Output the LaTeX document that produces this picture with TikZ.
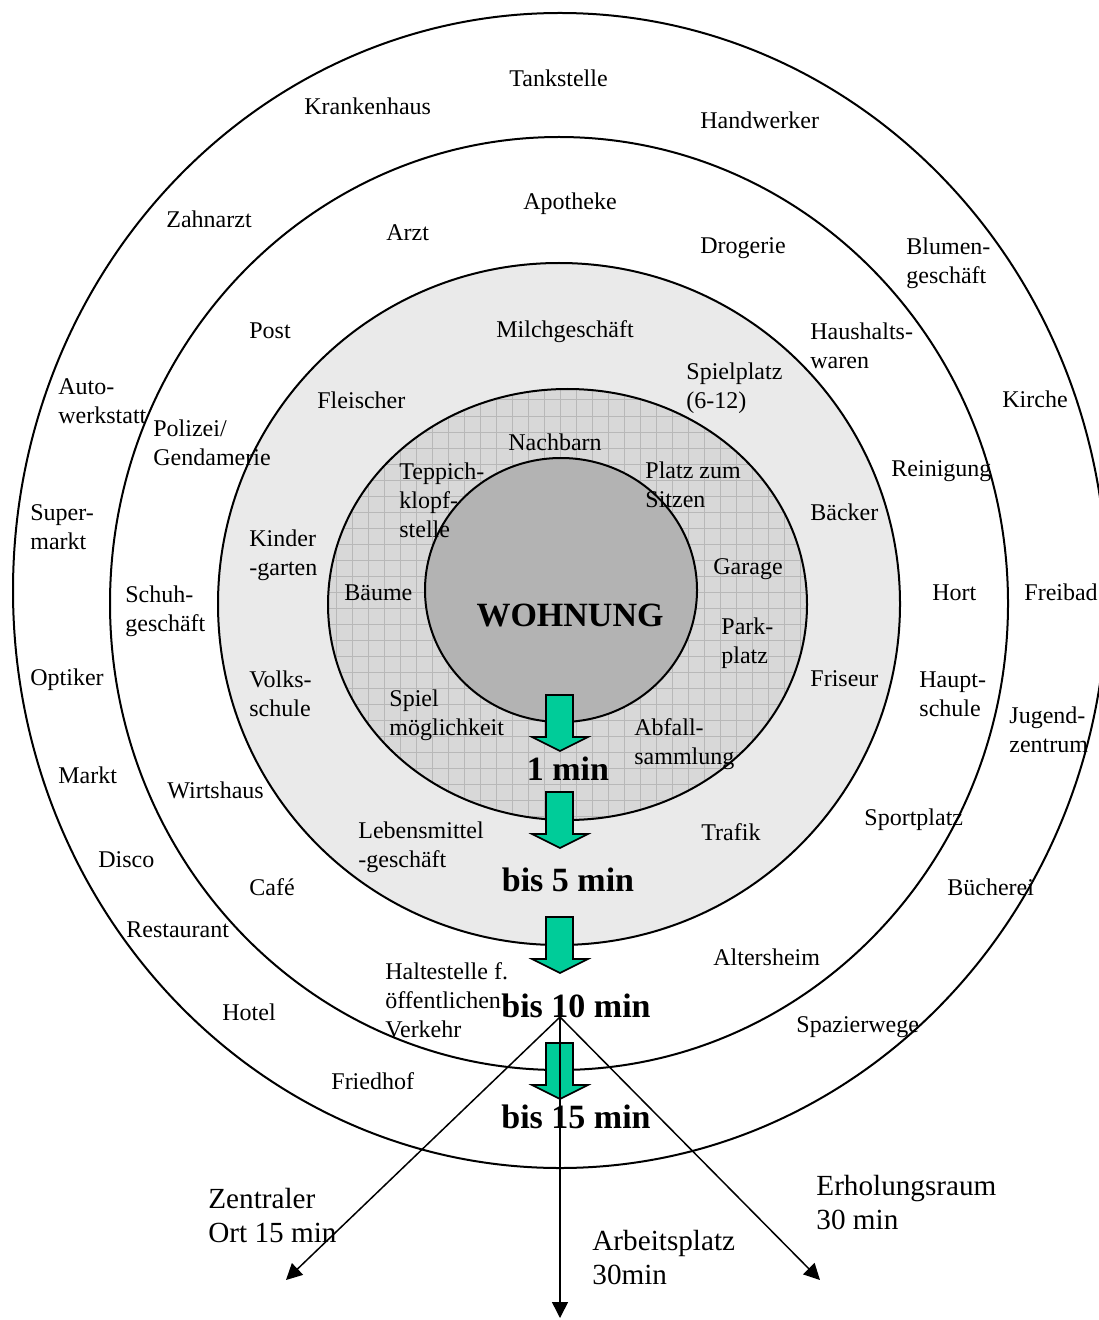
\documentclass[tikz,border=0pt]{standalone}
\usepackage{fontspec}
\setmainfont{Liberation Serif}
\usetikzlibrary{arrows.meta}
\definecolor{ringgray}{HTML}{EAEAEA}
\definecolor{hatchgray}{HTML}{D8D8D8}
\definecolor{hatchline}{HTML}{B8B8B8}
\definecolor{homegray}{HTML}{B3B3B3}
\definecolor{timegreen}{HTML}{00CC99}
\begin{document}
\begin{tikzpicture}[x=0.5pt, y=-0.5pt,
    ring/.style={line width=1pt},
    lbl/.style={anchor=west, align=left, inner sep=0pt, font=\fontsize{12}{14.5}\selectfont},
    timelbl/.style={inner sep=0pt, font=\bfseries\fontsize{17}{20}\selectfont},
    destlbl/.style={anchor=west, align=left, inner sep=0pt, font=\fontsize{14.6}{17}\selectfont},
    timearrow/.style={fill=timegreen, draw=black, line width=0.8pt},
    fan/.style={line width=0.75pt, -{Triangle[length=8pt,width=8pt]}}]
    \useasboundingbox (0,0) rectangle (1098,1320);

    % rings, outside in
    \filldraw[ring, fill=white] (560,590.5) ellipse [x radius=547, y radius=577.5];
    \filldraw[ring, fill=white] (559,603.5) ellipse [x radius=449, y radius=466.5];
    \filldraw[ring, fill=ringgray] (559,604) ellipse [x radius=341, y radius=341];
    \begin{scope}
      \clip (567.5,604.5) ellipse [x radius=239.5, y radius=215.5];
      \fill[hatchgray] (300,850) rectangle (840,360);
      \draw[hatchline, line width=0.5pt, step=8pt] (300,850) grid (840,360);
    \end{scope}
    \draw[ring] (567.5,604.5) ellipse [x radius=239.5, y radius=215.5];
    \filldraw[ring, fill=homegray] (561,590) ellipse [x radius=136, y radius=132];

    % outer ring
    \node[lbl] (tankstelle) at (509,78) {Tankstelle};
    \node[lbl] (krankenhaus) at (304,106) {Krankenhaus};
    \node[lbl] (handwerker) at (700,120) {Handwerker};
    \node[lbl] (zahnarzt) at (166,219) {Zahnarzt};
    \node[lbl] (blumen) at (906,263) {Blumen-\\geschäft};
    \node[lbl] (werkstatt) at (58,401) {Auto-\\werkstatt};
    \node[lbl] (kirche) at (1002,399) {Kirche};
    \node[lbl] (supermarkt) at (30,527) {Super-\\markt};
    \node[lbl] (freibad) at (1024,592) {Freibad};
    \node[lbl] (optiker) at (30,680) {Optiker};
    \node[lbl] (jugend) at (1009,730) {Jugend-\\zentrum};
    \node[lbl] (markt) at (58,775) {Markt};
    \node[lbl] (disco) at (98,860) {Disco};
    \node[lbl] (buecherei) at (947,887) {Bücherei};
    \node[lbl] (restaurant) at (126,930) {Restaurant};
    \node[lbl] (hotel) at (222,1012) {Hotel};
    \node[lbl] (spazier) at (796,1027) {Spazierwege};
    \node[lbl] (friedhof) at (331,1081) {Friedhof};

    % second ring
    \node[lbl] (apotheke) at (523,204) {Apotheke};
    \node[lbl] (arzt) at (386,233) {Arzt};
    \node[lbl] (drogerie) at (700,248) {Drogerie};
    \node[lbl] (post) at (249,331) {Post};
    \node[lbl] (haushalt) at (810,346) {Haushalts-\\waren};
    \node[lbl] (polizei) at (153,443) {Polizei/\\Gendamerie};
    \node[lbl] (reinigung) at (891,471) {Reinigung};
    \node[lbl] (schuh) at (125,611) {Schuh-\\geschäft};
    \node[lbl] (hort) at (932,593) {Hort};
    \node[lbl] (hauptschule) at (919,694) {Haupt-\\schule};
    \node[lbl] (wirtshaus) at (167,790) {Wirtshaus};
    \node[lbl] (sportplatz) at (864,820) {Sportplatz};
    \node[lbl] (cafe) at (249,887) {Café};
    \node[lbl] (altersheim) at (713,957) {Altersheim};
    \node[lbl] (haltestelle) at (385,1000) {Haltestelle f.\\öffentlichen\\Verkehr};

    % light ring
    \node[lbl] (milch) at (496,332) {Milchgeschäft};
    \node[lbl] (spielplatz) at (686,388) {Spielplatz\\(6-12)};
    \node[lbl] (fleischer) at (317,400) {Fleischer};
    \node[lbl] (baecker) at (810,512) {Bäcker};
    \node[lbl] (kinder) at (249,555) {Kinder\\-garten};
    \node[lbl] (volks) at (249,694) {Volks-\\schule};
    \node[lbl] (friseur) at (810,679) {Friseur};
    \node[lbl] (lebensmittel) at (358,847) {Lebensmittel\\-geschäft};
    \node[lbl] (trafik) at (701,832) {Trafik};

    % hatched ring
    \node[lbl] (nachbarn) at (508,442) {Nachbarn};
    \node[lbl] (teppich) at (399,500) {Teppich-\\klopf-\\stelle};
    \node[lbl] (sitzen) at (645,485) {Platz zum\\Sitzen};
    \node[lbl] (baeume) at (344,593) {Bäume};
    \node[lbl] (garage) at (713,569) {Garage};
    \node[lbl] (parkplatz) at (721,643) {Park-\\platz};
    \node[lbl] (spiel) at (389,715) {Spiel\\möglichkeit};
    \node[lbl] (abfall) at (634,744) {Abfall-\\sammlung};

    \node[timelbl] (wohnung) at (570,615) {WOHNUNG};

    % green steps
    \foreach \t in {695,792,917,1043}
      \filldraw[timearrow] (546,\t) -- (573,\t) -- (573,\t+42) -- (588,\t+42)
        -- (560,\t+56) -- (532,\t+42) -- (546,\t+42) -- cycle;

    \node[timelbl] (min1) at (568,769) {1 min};
    \node[timelbl] (min5) at (568,880) {bis 5 min};
    \node[timelbl] (min10) at (576,1006) {bis 10 min};
    \node[timelbl] (min15) at (576,1117) {bis 15 min};

    % destinations
    \node[destlbl] (ort) at (208,1215) {Zentraler\\Ort 15 min};
    \node[destlbl] (arbeit) at (592,1257) {Arbeitsplatz\\30min};
    \node[destlbl] (erholung) at (816,1202) {Erholungsraum\\30 min};

    \coordinate (hub) at (560,1017);
    \coordinate (toort) at (286,1280);
    \coordinate (toarbeit) at (560,1318);
    \coordinate (toerholung) at (820,1280);
    \draw[fan] (hub) -- (toort);
    \draw[fan] (hub) -- (toarbeit);
    \draw[fan] (hub) -- (toerholung);
  \end{tikzpicture}
\end{document}
